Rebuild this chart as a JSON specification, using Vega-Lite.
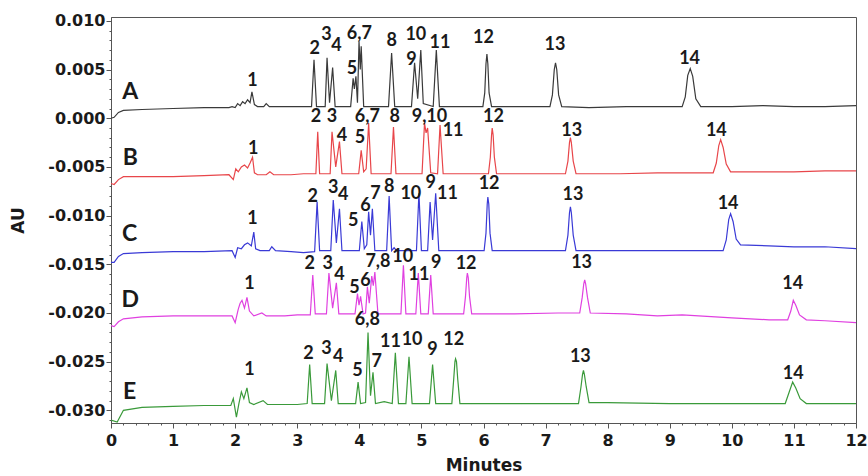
{
  "$schema": "https://vega.github.io/schema/vega-lite/v6.json",
  "width": 745,
  "height": 406,
  "autosize": {"type": "none"},
  "padding": {"left": 111, "top": 17, "right": 12, "bottom": 53},
  "background": "white",
  "config": {
    "view": {"stroke": "#555555", "strokeWidth": 1},
    "axis": {
      "grid": false,
      "domainColor": "#555555",
      "tickColor": "#555555",
      "labelFont": "DejaVu Sans",
      "labelFontWeight": "bold",
      "labelFontSize": 16,
      "labelColor": "#1a1a1a",
      "titleFont": "DejaVu Sans",
      "titleFontWeight": "bold",
      "titleFontSize": 17,
      "titleColor": "#1a1a1a"
    }
  },
  "datasets": {
    "traces": [
      {"s":"A","t":0,"v":0.0000},{"s":"A","t":0.05,"v":0.0001},{"s":"A","t":0.12,"v":0.0006},{"s":"A","t":0.2,"v":0.0008},{"s":"A","t":0.5,"v":0.0009},{"s":"A","t":1.0,"v":0.0010},{"s":"A","t":1.5,"v":0.0011},{"s":"A","t":1.9,"v":0.0011},{"s":"A","t":1.95,"v":0.0012},{"s":"A","t":2.0,"v":0.0011},{"s":"A","t":2.04,"v":0.0015},{"s":"A","t":2.08,"v":0.0013},{"s":"A","t":2.12,"v":0.0017},{"s":"A","t":2.16,"v":0.0015},{"s":"A","t":2.2,"v":0.0019},{"s":"A","t":2.24,"v":0.0016},{"s":"A","t":2.27,"v":0.0027},{"s":"A","t":2.31,"v":0.0014},{"s":"A","t":2.36,"v":0.0012},{"s":"A","t":2.46,"v":0.0012},{"s":"A","t":2.5,"v":0.0015},{"s":"A","t":2.55,"v":0.0012},{"s":"A","t":2.8,"v":0.0012},{"s":"A","t":3.0,"v":0.0012},{"s":"A","t":3.23,"v":0.0012},{"s":"A","t":3.27,"v":0.0060},{"s":"A","t":3.31,"v":0.0012},{"s":"A","t":3.45,"v":0.0012},{"s":"A","t":3.48,"v":0.0062},{"s":"A","t":3.52,"v":0.0016},{"s":"A","t":3.57,"v":0.0052},{"s":"A","t":3.61,"v":0.0012},{"s":"A","t":3.86,"v":0.0012},{"s":"A","t":3.90,"v":0.0041},{"s":"A","t":3.92,"v":0.0030},{"s":"A","t":3.945,"v":0.0043},{"s":"A","t":3.97,"v":0.0016},{"s":"A","t":3.995,"v":0.0079},{"s":"A","t":4.015,"v":0.0050},{"s":"A","t":4.03,"v":0.0074},{"s":"A","t":4.07,"v":0.0012},{"s":"A","t":4.47,"v":0.0012},{"s":"A","t":4.52,"v":0.0067},{"s":"A","t":4.57,"v":0.0012},{"s":"A","t":4.84,"v":0.0012},{"s":"A","t":4.89,"v":0.0057},{"s":"A","t":4.94,"v":0.0020},{"s":"A","t":4.99,"v":0.0070},{"s":"A","t":5.03,"v":0.0015},{"s":"A","t":5.19,"v":0.0012},{"s":"A","t":5.24,"v":0.0070},{"s":"A","t":5.29,"v":0.0012},{"s":"A","t":5.7,"v":0.0012},{"s":"A","t":5.99,"v":0.0012},{"s":"A","t":6.02,"v":0.0026},{"s":"A","t":6.04,"v":0.0056},{"s":"A","t":6.055,"v":0.0066},{"s":"A","t":6.07,"v":0.0056},{"s":"A","t":6.09,"v":0.0026},{"s":"A","t":6.13,"v":0.0012},{"s":"A","t":6.6,"v":0.0012},{"s":"A","t":7.07,"v":0.0012},{"s":"A","t":7.11,"v":0.0024},{"s":"A","t":7.14,"v":0.0050},{"s":"A","t":7.16,"v":0.0057},{"s":"A","t":7.18,"v":0.0050},{"s":"A","t":7.21,"v":0.0024},{"s":"A","t":7.26,"v":0.0012},{"s":"A","t":7.7,"v":0.0011},{"s":"A","t":8.3,"v":0.0012},{"s":"A","t":9.0,"v":0.0012},{"s":"A","t":9.2,"v":0.0012},{"s":"A","t":9.25,"v":0.0022},{"s":"A","t":9.29,"v":0.0044},{"s":"A","t":9.33,"v":0.0051},{"s":"A","t":9.37,"v":0.0043},{"s":"A","t":9.42,"v":0.0020},{"s":"A","t":9.5,"v":0.0012},{"s":"A","t":10.0,"v":0.0012},{"s":"A","t":10.5,"v":0.0013},{"s":"A","t":11.0,"v":0.0012},{"s":"A","t":11.5,"v":0.0012},{"s":"A","t":12,"v":0.0013},

      {"s":"B","t":0,"v":-0.0067},{"s":"B","t":0.05,"v":-0.0068},{"s":"B","t":0.12,"v":-0.0063},{"s":"B","t":0.2,"v":-0.0060},{"s":"B","t":0.5,"v":-0.0060},{"s":"B","t":1.0,"v":-0.0060},{"s":"B","t":1.5,"v":-0.0059},{"s":"B","t":1.9,"v":-0.0058},{"s":"B","t":1.97,"v":-0.0063},{"s":"B","t":2.01,"v":-0.0052},{"s":"B","t":2.05,"v":-0.0055},{"s":"B","t":2.1,"v":-0.0050},{"s":"B","t":2.15,"v":-0.0048},{"s":"B","t":2.2,"v":-0.0051},{"s":"B","t":2.24,"v":-0.0046},{"s":"B","t":2.28,"v":-0.0040},{"s":"B","t":2.31,"v":-0.0056},{"s":"B","t":2.36,"v":-0.0058},{"s":"B","t":2.5,"v":-0.0058},{"s":"B","t":2.56,"v":-0.0055},{"s":"B","t":2.62,"v":-0.0058},{"s":"B","t":2.9,"v":-0.0058},{"s":"B","t":3.1,"v":-0.0057},{"s":"B","t":3.30,"v":-0.0057},{"s":"B","t":3.33,"v":-0.0014},{"s":"B","t":3.36,"v":-0.0057},{"s":"B","t":3.53,"v":-0.0057},{"s":"B","t":3.56,"v":-0.0014},{"s":"B","t":3.62,"v":-0.0050},{"s":"B","t":3.68,"v":-0.0024},{"s":"B","t":3.72,"v":-0.0057},{"s":"B","t":3.99,"v":-0.0057},{"s":"B","t":4.03,"v":-0.0033},{"s":"B","t":4.07,"v":-0.0055},{"s":"B","t":4.11,"v":-0.0052},{"s":"B","t":4.15,"v":-0.0005},{"s":"B","t":4.19,"v":-0.0057},{"s":"B","t":4.51,"v":-0.0057},{"s":"B","t":4.55,"v":-0.0009},{"s":"B","t":4.59,"v":-0.0057},{"s":"B","t":5.01,"v":-0.0057},{"s":"B","t":5.05,"v":-0.0005},{"s":"B","t":5.075,"v":-0.0015},{"s":"B","t":5.10,"v":-0.0010},{"s":"B","t":5.15,"v":-0.0056},{"s":"B","t":5.26,"v":-0.0057},{"s":"B","t":5.30,"v":-0.0007},{"s":"B","t":5.35,"v":-0.0057},{"s":"B","t":5.8,"v":-0.0057},{"s":"B","t":6.08,"v":-0.0057},{"s":"B","t":6.11,"v":-0.0040},{"s":"B","t":6.13,"v":-0.0017},{"s":"B","t":6.14,"v":-0.0010},{"s":"B","t":6.155,"v":-0.0017},{"s":"B","t":6.175,"v":-0.0040},{"s":"B","t":6.21,"v":-0.0057},{"s":"B","t":6.8,"v":-0.0057},{"s":"B","t":7.32,"v":-0.0057},{"s":"B","t":7.36,"v":-0.0044},{"s":"B","t":7.385,"v":-0.0025},{"s":"B","t":7.40,"v":-0.0020},{"s":"B","t":7.415,"v":-0.0025},{"s":"B","t":7.445,"v":-0.0044},{"s":"B","t":7.49,"v":-0.0057},{"s":"B","t":8.2,"v":-0.0057},{"s":"B","t":8.8,"v":-0.0056},{"s":"B","t":9.3,"v":-0.0056},{"s":"B","t":9.70,"v":-0.0056},{"s":"B","t":9.75,"v":-0.0046},{"s":"B","t":9.79,"v":-0.0028},{"s":"B","t":9.82,"v":-0.0022},{"s":"B","t":9.86,"v":-0.0030},{"s":"B","t":9.91,"v":-0.0047},{"s":"B","t":9.98,"v":-0.0055},{"s":"B","t":10.5,"v":-0.0055},{"s":"B","t":11.0,"v":-0.0055},{"s":"B","t":11.5,"v":-0.0054},{"s":"B","t":12,"v":-0.0054},

      {"s":"C","t":0,"v":-0.0148},{"s":"C","t":0.05,"v":-0.0148},{"s":"C","t":0.12,"v":-0.0142},{"s":"C","t":0.2,"v":-0.0139},{"s":"C","t":0.5,"v":-0.0138},{"s":"C","t":1.0,"v":-0.0137},{"s":"C","t":1.5,"v":-0.0137},{"s":"C","t":1.95,"v":-0.0136},{"s":"C","t":2.0,"v":-0.0143},{"s":"C","t":2.04,"v":-0.0133},{"s":"C","t":2.1,"v":-0.0134},{"s":"C","t":2.15,"v":-0.0130},{"s":"C","t":2.2,"v":-0.0128},{"s":"C","t":2.26,"v":-0.0131},{"s":"C","t":2.30,"v":-0.0117},{"s":"C","t":2.33,"v":-0.0134},{"s":"C","t":2.4,"v":-0.0136},{"s":"C","t":2.55,"v":-0.0136},{"s":"C","t":2.59,"v":-0.0132},{"s":"C","t":2.65,"v":-0.0136},{"s":"C","t":2.9,"v":-0.0137},{"s":"C","t":3.1,"v":-0.0138},{"s":"C","t":3.28,"v":-0.0137},{"s":"C","t":3.32,"v":-0.0086},{"s":"C","t":3.36,"v":-0.0136},{"s":"C","t":3.54,"v":-0.0136},{"s":"C","t":3.58,"v":-0.0084},{"s":"C","t":3.63,"v":-0.0128},{"s":"C","t":3.68,"v":-0.0093},{"s":"C","t":3.72,"v":-0.0136},{"s":"C","t":4.0,"v":-0.0136},{"s":"C","t":4.04,"v":-0.0106},{"s":"C","t":4.08,"v":-0.0134},{"s":"C","t":4.12,"v":-0.0130},{"s":"C","t":4.15,"v":-0.0096},{"s":"C","t":4.18,"v":-0.0120},{"s":"C","t":4.21,"v":-0.0093},{"s":"C","t":4.25,"v":-0.0136},{"s":"C","t":4.44,"v":-0.0136},{"s":"C","t":4.48,"v":-0.0080},{"s":"C","t":4.52,"v":-0.0136},{"s":"C","t":4.56,"v":-0.0133},{"s":"C","t":4.6,"v":-0.0136},{"s":"C","t":4.92,"v":-0.0136},{"s":"C","t":4.96,"v":-0.0077},{"s":"C","t":5.0,"v":-0.0136},{"s":"C","t":5.1,"v":-0.0136},{"s":"C","t":5.14,"v":-0.0086},{"s":"C","t":5.18,"v":-0.0125},{"s":"C","t":5.23,"v":-0.0077},{"s":"C","t":5.28,"v":-0.0136},{"s":"C","t":5.7,"v":-0.0136},{"s":"C","t":6.01,"v":-0.0136},{"s":"C","t":6.04,"v":-0.0118},{"s":"C","t":6.06,"v":-0.0088},{"s":"C","t":6.07,"v":-0.0081},{"s":"C","t":6.085,"v":-0.0088},{"s":"C","t":6.105,"v":-0.0118},{"s":"C","t":6.14,"v":-0.0136},{"s":"C","t":6.8,"v":-0.0136},{"s":"C","t":7.32,"v":-0.0136},{"s":"C","t":7.36,"v":-0.0120},{"s":"C","t":7.385,"v":-0.0097},{"s":"C","t":7.40,"v":-0.0091},{"s":"C","t":7.415,"v":-0.0097},{"s":"C","t":7.445,"v":-0.0120},{"s":"C","t":7.49,"v":-0.0136},{"s":"C","t":8.2,"v":-0.0136},{"s":"C","t":9.0,"v":-0.0136},{"s":"C","t":9.6,"v":-0.0136},{"s":"C","t":9.86,"v":-0.0136},{"s":"C","t":9.91,"v":-0.0125},{"s":"C","t":9.95,"v":-0.0104},{"s":"C","t":9.98,"v":-0.0098},{"s":"C","t":10.02,"v":-0.0106},{"s":"C","t":10.07,"v":-0.0124},{"s":"C","t":10.14,"v":-0.0130},{"s":"C","t":10.6,"v":-0.0131},{"s":"C","t":11.0,"v":-0.0132},{"s":"C","t":11.5,"v":-0.0132},{"s":"C","t":12,"v":-0.0134},

      {"s":"D","t":0,"v":-0.0213},{"s":"D","t":0.05,"v":-0.0214},{"s":"D","t":0.12,"v":-0.0209},{"s":"D","t":0.2,"v":-0.0206},{"s":"D","t":0.5,"v":-0.0204},{"s":"D","t":1.0,"v":-0.0203},{"s":"D","t":1.5,"v":-0.0203},{"s":"D","t":1.95,"v":-0.0203},{"s":"D","t":2.0,"v":-0.0210},{"s":"D","t":2.05,"v":-0.0196},{"s":"D","t":2.08,"v":-0.0190},{"s":"D","t":2.11,"v":-0.0187},{"s":"D","t":2.15,"v":-0.0195},{"s":"D","t":2.19,"v":-0.0184},{"s":"D","t":2.23,"v":-0.0198},{"s":"D","t":2.3,"v":-0.0203},{"s":"D","t":2.43,"v":-0.0200},{"s":"D","t":2.5,"v":-0.0203},{"s":"D","t":2.8,"v":-0.0203},{"s":"D","t":3.0,"v":-0.0202},{"s":"D","t":3.21,"v":-0.0202},{"s":"D","t":3.25,"v":-0.0161},{"s":"D","t":3.29,"v":-0.0201},{"s":"D","t":3.47,"v":-0.0201},{"s":"D","t":3.51,"v":-0.0159},{"s":"D","t":3.57,"v":-0.0195},{"s":"D","t":3.63,"v":-0.0169},{"s":"D","t":3.67,"v":-0.0201},{"s":"D","t":3.93,"v":-0.0201},{"s":"D","t":3.97,"v":-0.0180},{"s":"D","t":3.995,"v":-0.0192},{"s":"D","t":4.02,"v":-0.0183},{"s":"D","t":4.06,"v":-0.0201},{"s":"D","t":4.1,"v":-0.0200},{"s":"D","t":4.13,"v":-0.0173},{"s":"D","t":4.16,"v":-0.0190},{"s":"D","t":4.20,"v":-0.0162},{"s":"D","t":4.225,"v":-0.0172},{"s":"D","t":4.25,"v":-0.0158},{"s":"D","t":4.30,"v":-0.0201},{"s":"D","t":4.67,"v":-0.0201},{"s":"D","t":4.71,"v":-0.0151},{"s":"D","t":4.75,"v":-0.0201},{"s":"D","t":4.91,"v":-0.0201},{"s":"D","t":4.95,"v":-0.0159},{"s":"D","t":4.99,"v":-0.0201},{"s":"D","t":5.11,"v":-0.0201},{"s":"D","t":5.15,"v":-0.0161},{"s":"D","t":5.19,"v":-0.0201},{"s":"D","t":5.68,"v":-0.0201},{"s":"D","t":5.71,"v":-0.0183},{"s":"D","t":5.73,"v":-0.0164},{"s":"D","t":5.74,"v":-0.0159},{"s":"D","t":5.755,"v":-0.0164},{"s":"D","t":5.775,"v":-0.0183},{"s":"D","t":5.81,"v":-0.0201},{"s":"D","t":6.5,"v":-0.0201},{"s":"D","t":7.2,"v":-0.0200},{"s":"D","t":7.55,"v":-0.0200},{"s":"D","t":7.59,"v":-0.0184},{"s":"D","t":7.615,"v":-0.0170},{"s":"D","t":7.63,"v":-0.0166},{"s":"D","t":7.645,"v":-0.0170},{"s":"D","t":7.675,"v":-0.0184},{"s":"D","t":7.72,"v":-0.0200},{"s":"D","t":8.3,"v":-0.0201},{"s":"D","t":8.8,"v":-0.0203},{"s":"D","t":9.2,"v":-0.0202},{"s":"D","t":10.0,"v":-0.0205},{"s":"D","t":10.6,"v":-0.0207},{"s":"D","t":10.9,"v":-0.0207},{"s":"D","t":10.95,"v":-0.0198},{"s":"D","t":10.99,"v":-0.0187},{"s":"D","t":11.03,"v":-0.0192},{"s":"D","t":11.09,"v":-0.0202},{"s":"D","t":11.2,"v":-0.0207},{"s":"D","t":11.5,"v":-0.0208},{"s":"D","t":12,"v":-0.0210},

      {"s":"E","t":0,"v":-0.0310},{"s":"E","t":0.1,"v":-0.0312},{"s":"E","t":0.2,"v":-0.0300},{"s":"E","t":0.5,"v":-0.0297},{"s":"E","t":1.0,"v":-0.0296},{"s":"E","t":1.5,"v":-0.0295},{"s":"E","t":1.93,"v":-0.0295},{"s":"E","t":1.97,"v":-0.0288},{"s":"E","t":2.02,"v":-0.0307},{"s":"E","t":2.06,"v":-0.0293},{"s":"E","t":2.1,"v":-0.0281},{"s":"E","t":2.14,"v":-0.0288},{"s":"E","t":2.19,"v":-0.0277},{"s":"E","t":2.23,"v":-0.0292},{"s":"E","t":2.3,"v":-0.0294},{"s":"E","t":2.45,"v":-0.0290},{"s":"E","t":2.52,"v":-0.0294},{"s":"E","t":2.8,"v":-0.0294},{"s":"E","t":3.0,"v":-0.0294},{"s":"E","t":3.16,"v":-0.0293},{"s":"E","t":3.20,"v":-0.0253},{"s":"E","t":3.24,"v":-0.0293},{"s":"E","t":3.44,"v":-0.0293},{"s":"E","t":3.48,"v":-0.0252},{"s":"E","t":3.55,"v":-0.0290},{"s":"E","t":3.62,"v":-0.0259},{"s":"E","t":3.66,"v":-0.0293},{"s":"E","t":3.94,"v":-0.0293},{"s":"E","t":3.98,"v":-0.0271},{"s":"E","t":4.02,"v":-0.0293},{"s":"E","t":4.1,"v":-0.0292},{"s":"E","t":4.14,"v":-0.0220},{"s":"E","t":4.18,"v":-0.0285},{"s":"E","t":4.22,"v":-0.0261},{"s":"E","t":4.26,"v":-0.0293},{"s":"E","t":4.4,"v":-0.0291},{"s":"E","t":4.53,"v":-0.0293},{"s":"E","t":4.58,"v":-0.0241},{"s":"E","t":4.63,"v":-0.0293},{"s":"E","t":4.75,"v":-0.0293},{"s":"E","t":4.80,"v":-0.0245},{"s":"E","t":4.85,"v":-0.0293},{"s":"E","t":5.13,"v":-0.0293},{"s":"E","t":5.18,"v":-0.0253},{"s":"E","t":5.23,"v":-0.0293},{"s":"E","t":5.49,"v":-0.0293},{"s":"E","t":5.52,"v":-0.0268},{"s":"E","t":5.54,"v":-0.0250},{"s":"E","t":5.55,"v":-0.0247},{"s":"E","t":5.565,"v":-0.0250},{"s":"E","t":5.585,"v":-0.0268},{"s":"E","t":5.62,"v":-0.0293},{"s":"E","t":6.2,"v":-0.0293},{"s":"E","t":7.0,"v":-0.0293},{"s":"E","t":7.53,"v":-0.0293},{"s":"E","t":7.57,"v":-0.0276},{"s":"E","t":7.595,"v":-0.0263},{"s":"E","t":7.61,"v":-0.0259},{"s":"E","t":7.625,"v":-0.0263},{"s":"E","t":7.655,"v":-0.0276},{"s":"E","t":7.70,"v":-0.0292},{"s":"E","t":8.0,"v":-0.0292},{"s":"E","t":9.0,"v":-0.0293},{"s":"E","t":10.0,"v":-0.0293},{"s":"E","t":10.86,"v":-0.0293},{"s":"E","t":10.92,"v":-0.0282},{"s":"E","t":10.98,"v":-0.0271},{"s":"E","t":11.03,"v":-0.0277},{"s":"E","t":11.1,"v":-0.0288},{"s":"E","t":11.2,"v":-0.0293},{"s":"E","t":12,"v":-0.0293}
    ],
    "peaklabels": [
      {"label":"1","t":2.28,"v":0.0038},{"label":"2","t":3.28,"v":0.0071},{"label":"3","t":3.47,"v":0.0086},{"label":"4","t":3.63,"v":0.0074},{"label":"5","t":3.88,"v":0.0051},{"label":"6,7","t":4.0,"v":0.0087},{"label":"8","t":4.52,"v":0.0079},{"label":"9","t":4.84,"v":0.0060},{"label":"10","t":4.91,"v":0.0085},{"label":"11","t":5.30,"v":0.0077},{"label":"12","t":6.0,"v":0.0082},{"label":"13","t":7.15,"v":0.0075},{"label":"14","t":9.32,"v":0.0061},
      {"label":"1","t":2.29,"v":-0.0032},{"label":"2","t":3.30,"v":0.0001},{"label":"3","t":3.56,"v":0.0001},{"label":"4","t":3.72,"v":-0.0018},{"label":"5","t":4.01,"v":-0.0020},{"label":"6,7","t":4.13,"v":0.0001},{"label":"8","t":4.57,"v":0.0001},{"label":"9,10","t":5.13,"v":0.0001},{"label":"11","t":5.51,"v":-0.0013},{"label":"12","t":6.16,"v":0.0001},{"label":"13","t":7.42,"v":-0.0013},{"label":"14","t":9.75,"v":-0.0013},
      {"label":"1","t":2.28,"v":-0.0103},{"label":"2","t":3.25,"v":-0.0081},{"label":"3","t":3.58,"v":-0.0072},{"label":"4","t":3.74,"v":-0.0079},{"label":"5","t":3.90,"v":-0.0106},{"label":"6","t":4.10,"v":-0.0090},{"label":"7","t":4.26,"v":-0.0078},{"label":"8","t":4.48,"v":-0.0071},{"label":"10","t":4.83,"v":-0.0078},{"label":"9","t":5.15,"v":-0.0067},{"label":"11","t":5.42,"v":-0.0078},{"label":"12","t":6.09,"v":-0.0068},{"label":"13","t":7.44,"v":-0.0079},{"label":"14","t":9.94,"v":-0.0088},
      {"label":"1","t":2.23,"v":-0.0170},{"label":"2","t":3.20,"v":-0.0150},{"label":"3","t":3.49,"v":-0.0150},{"label":"4","t":3.68,"v":-0.0161},{"label":"5","t":3.92,"v":-0.0174},{"label":"6","t":4.10,"v":-0.0167},{"label":"7,8","t":4.30,"v":-0.0148},{"label":"10","t":4.70,"v":-0.0142},{"label":"11","t":4.96,"v":-0.0161},{"label":"9","t":5.24,"v":-0.0149},{"label":"12","t":5.72,"v":-0.0150},{"label":"13","t":7.58,"v":-0.0149},{"label":"14","t":10.98,"v":-0.0170},
      {"label":"1","t":2.23,"v":-0.0259},{"label":"2","t":3.18,"v":-0.0242},{"label":"3","t":3.47,"v":-0.0237},{"label":"4","t":3.66,"v":-0.0245},{"label":"5","t":3.97,"v":-0.0260},{"label":"6,8","t":4.13,"v":-0.0207},{"label":"7","t":4.28,"v":-0.0250},{"label":"11","t":4.50,"v":-0.0230},{"label":"10","t":4.85,"v":-0.0228},{"label":"9","t":5.18,"v":-0.0238},{"label":"12","t":5.52,"v":-0.0228},{"label":"13","t":7.56,"v":-0.0245},{"label":"14","t":10.99,"v":-0.0263}
    ],
    "tracelabels": [
      {"label":"A","t":0.31,"v":0.0027},
      {"label":"B","t":0.31,"v":-0.0041},
      {"label":"C","t":0.30,"v":-0.0119},
      {"label":"D","t":0.31,"v":-0.0187},
      {"label":"E","t":0.30,"v":-0.0281}
    ]
  },
  "encoding": {
    "x": {
      "field": "t", "type": "quantitative",
      "scale": {"domain": [0, 12], "nice": false, "zero": false},
      "axis": {
        "title": "Minutes",
        "values": [0,0.2,0.4,0.6,0.8,1,1.2,1.4,1.6,1.8,2,2.2,2.4,2.6,2.8,3,3.2,3.4,3.6,3.8,4,4.2,4.4,4.6,4.8,5,5.2,5.4,5.6,5.8,6,6.2,6.4,6.6,6.8,7,7.2,7.4,7.6,7.8,8,8.2,8.4,8.6,8.8,9,9.2,9.4,9.6,9.8,10,10.2,10.4,10.6,10.8,11,11.2,11.4,11.6,11.8,12],
        "labelExpr": "abs(datum.value - round(datum.value)) < 0.001 ? format(datum.value, 'd') : ''",
        "tickSize": {"condition": {"test": "abs(datum.value - round(datum.value)) < 0.001", "value": 5}, "value": 2},
        "labelOverlap": false,
        "labelFlush": false,
        "labelPadding": 4, "titlePadding": 9
      }
    },
    "y": {
      "field": "v", "type": "quantitative",
      "scale": {"domain": [-0.0313, 0.0104], "nice": false, "zero": false},
      "axis": {
        "title": "AU",
        "values": [-0.031,-0.03,-0.029,-0.028,-0.027,-0.026,-0.025,-0.024,-0.023,-0.022,-0.021,-0.02,-0.019,-0.018,-0.017,-0.016,-0.015,-0.014,-0.013,-0.012,-0.011,-0.01,-0.009,-0.008,-0.007,-0.006,-0.005,-0.004,-0.003,-0.002,-0.001,0,0.001,0.002,0.003,0.004,0.005,0.006,0.007,0.008,0.009,0.01],
        "labelExpr": "abs(datum.value*200 - round(datum.value*200)) < 0.001 ? replace(format(datum.value, '.3f'), '−', '-') : ''",
        "tickSize": {"condition": {"test": "abs(datum.value*200 - round(datum.value*200)) < 0.001", "value": 5}, "value": 2},
        "labelOverlap": false,
        "labelFlush": false,
        "labelPadding": 1, "titlePadding": 20
      }
    }
  },
  "layer": [
    {
      "data": {"name": "traces"},
      "mark": {"type": "line", "strokeWidth": 1.2, "clip": true},
      "encoding": {
        "color": {
          "field": "s", "type": "nominal",
          "scale": {"domain": ["A","B","C","D","E"], "range": ["#3a3a3a","#e8464a","#3a3ad6","#e040e0","#3a9a3a"]},
          "legend": null
        }
      }
    },
    {
      "data": {"name": "peaklabels"},
      "mark": {"type": "text", "font": "Lato", "fontWeight": "bold", "fontSize": 18, "color": "#1a1a1a", "align": "center", "baseline": "middle"},
      "encoding": {
        "text": {"field": "label"}
      }
    },
    {
      "data": {"name": "tracelabels"},
      "mark": {"type": "text", "font": "Lato", "fontWeight": "bold", "fontSize": 23, "color": "#1a1a1a", "align": "center", "baseline": "middle"},
      "encoding": {
        "text": {"field": "label"}
      }
    }
  ]
}
